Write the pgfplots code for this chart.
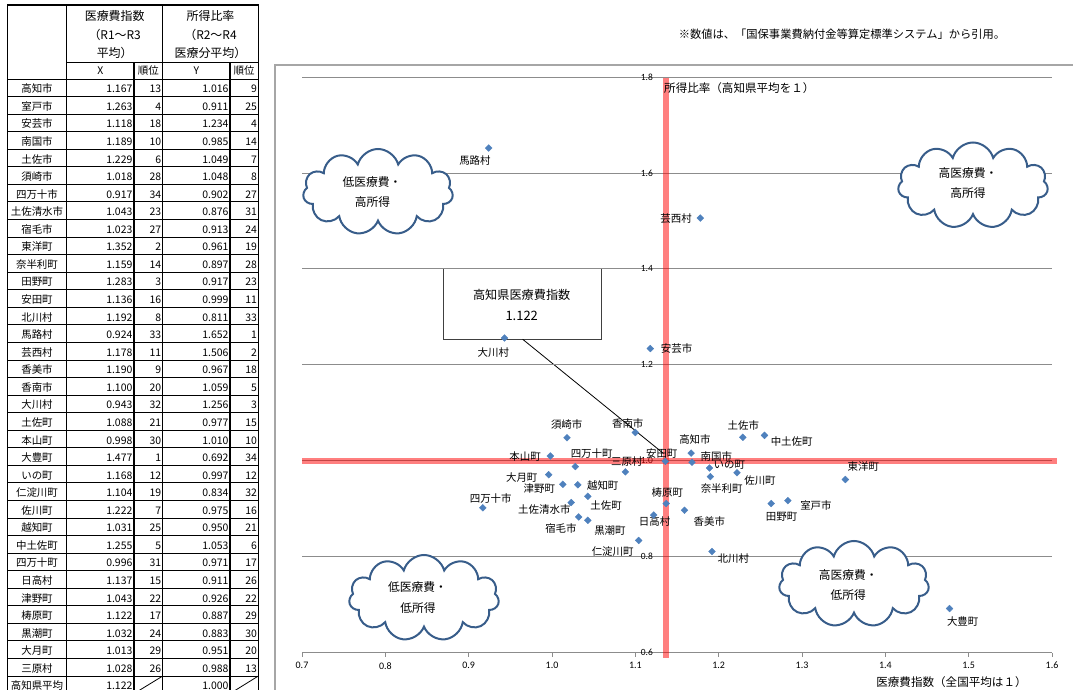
\documentclass[border=0pt]{standalone}
\usepackage{pgfplots}
\pgfplotsset{compat=1.18}
\usepackage{pgfplotstable}
\usepackage{fontspec}
\setmainfont{Noto Sans CJK JP}
\newfontfamily\calib{Carlito}
\usetikzlibrary{shapes.symbols}
\definecolor{markblue}{HTML}{4F81BD}
\definecolor{cloudblue}{HTML}{385D8A}
\definecolor{gridgray}{HTML}{8C8C8C}
\definecolor{framegray}{HTML}{A6A6A6}
\newcommand\fs[1]{\fontsize{#1}{#1}\selectfont}

% x, y, name, label offset (dx right, dy up) in bp
\pgfplotstableread[col sep=comma]{
x,y,name,dx,dy
1.167,1.016,高知市,3.8,13.8
1.263,0.911,室戸市,44.8,-1.8
1.118,1.234,安芸市,26.2,0.3
1.189,0.985,南国市,6.8,11.7
1.229,1.049,土佐市,0.5,12
1.018,1.048,須崎市,-0.3,13.5
0.917,0.902,四万十市,7.9,9.2
1.043,0.876,土佐清水市,-43.5,10.7
1.023,0.913,宿毛市,-10.2,-25.5
1.352,0.961,東洋町,18,12.5
1.159,0.897,奈半利町,37.2,21.6
1.283,0.917,田野町,-6.3,-15.7
1.136,0.999,安田町,-3.6,7.7
1.192,0.811,北川村,21.3,-7.2
0.924,1.652,馬路村,-13.7,-12.1
1.178,1.506,芸西村,-24.3,-0.1
1.190,0.967,香美市,-1,-44.7
1.100,1.059,香南市,-7.6,8.9
0.943,1.256,大川村,-11.2,-15
1.088,0.977,土佐町,-19.3,-33.5
0.998,1.010,本山町,-25.3,-0.3
1.477,0.692,大豊町,13.2,-12.8
1.168,0.997,いの町,37.3,-3
1.104,0.834,仁淀川町,-26,-11.6
1.222,0.975,佐川町,23,-7.5
1.031,0.950,越知町,24.9,-1.2
1.255,1.053,中土佐町,27.2,-6
0.996,0.971,四万十町,43,21.1
1.137,0.911,日高村,-11.5,-18.5
1.043,0.926,津野町,-48.5,7.7
1.122,0.887,梼原町,13.6,22
1.032,0.883,黒潮町,31.3,-13.4
1.013,0.951,大月町,-41.1,6.3
1.028,0.988,三原村,51.4,4.6
}\ptdata

\begin{document}
\begin{tikzpicture}
\useasboundingbox (0,0) rectangle (1073bp,-690bp);
\begin{scope}[x=1bp,y=-1bp]
% ---------- table ----------
\begin{scope}[font=\fs{12}]
\node at (114.7,16) {医療費指数};
\node at (114.7,35) {（R1～R3};
\node at (114.7,53) {平均）};
\node at (210.5,16) {所得比率};
\node at (210.5,35) {（R2～R4};
\node at (210.5,53) {医療分平均）};
\end{scope}
\begin{scope}[font=\fs{10.5}]
\node at (100.3,70.5) {X};
\node at (148.3,70.5) {順位};
\node at (196.3,70.5) {Y};
\node at (244.2,70.5) {順位};
\foreach \n/\xa/\xr/\ya/\yr [count=\i from 0] in {
高知市/1.167/13/1.016/9,
室戸市/1.263/4/0.911/25,
安芸市/1.118/18/1.234/4,
南国市/1.189/10/0.985/14,
土佐市/1.229/6/1.049/7,
須崎市/1.018/28/1.048/8,
四万十市/0.917/34/0.902/27,
土佐清水市/1.043/23/0.876/31,
宿毛市/1.023/27/0.913/24,
東洋町/1.352/2/0.961/19,
奈半利町/1.159/14/0.897/28,
田野町/1.283/3/0.917/23,
安田町/1.136/16/0.999/11,
北川村/1.192/8/0.811/33,
馬路村/0.924/33/1.652/1,
芸西村/1.178/11/1.506/2,
香美市/1.190/9/0.967/18,
香南市/1.100/20/1.059/5,
大川村/0.943/32/1.256/3,
土佐町/1.088/21/0.977/15,
本山町/0.998/30/1.010/10,
大豊町/1.477/1/0.692/34,
いの町/1.168/12/0.997/12,
仁淀川町/1.104/19/0.834/32,
佐川町/1.222/7/0.975/16,
越知町/1.031/25/0.950/21,
中土佐町/1.255/5/1.053/6,
四万十町/0.996/31/0.971/17,
日高村/1.137/15/0.911/26,
津野町/1.043/22/0.926/22,
梼原町/1.122/17/0.887/29,
黒潮町/1.032/24/0.883/30,
大月町/1.013/29/0.951/20,
三原村/1.028/26/0.988/13}{
  \pgfmathsetmacro\yb{79+\i*17.56+13.8}
  \node[anchor=base, inner sep=0pt] at (37,\yb) {\n};
  \node[anchor=base east, inner sep=0pt] at (132.6,\yb) {\xa};
  \node[anchor=base east, inner sep=0pt] at (161.4,\yb) {\xr};
  \node[anchor=base east, inner sep=0pt] at (228.7,\yb) {\ya};
  \node[anchor=base east, inner sep=0pt] at (257.2,\yb) {\yr};
}
\pgfmathsetmacro\yb{79+34*17.56+13.8}
\node[anchor=base, inner sep=0pt] at (37,\yb) {高知県平均};
\node[anchor=base east, inner sep=0pt] at (132.6,\yb) {1.122};
\node[anchor=base east, inner sep=0pt] at (228.7,\yb) {1.000};
\end{scope}
\foreach \k in {0,...,34} \draw[line width=0.9bp] (7.3,{79+\k*17.56}) -- (258.3,{79+\k*17.56});
\draw[line width=0.9bp] (66.7,62) -- (258.3,62);
\draw[line width=1.3bp] (7.3,5) -- (258.3,5) -- (258.3,700);
\draw[line width=1.3bp] (7.3,5) -- (7.3,700);
\draw[line width=1.3bp] (66.7,5) -- (66.7,700);
\draw[line width=1.3bp] (162.7,5) -- (162.7,700);
\draw[line width=1.3bp] (134,62) -- (134,700);
\draw[line width=1.3bp] (230,62) -- (230,700);
\draw[line width=0.8bp] (134,{79+35*17.56}) -- (162.7,{79+34*17.56});
\draw[line width=0.8bp] (230,{79+35*17.56}) -- (258.3,{79+34*17.56});
% ---------- chart frame and callout ----------
\draw[framegray, line width=1.5bp] (275,700) -- (275,65) -- (1090,65);
\node[font=\fs{11.3}] at (842,34) {※数値は、「国保事業費納付金等算定標準システム」から引用。};
\draw[black!75, line width=1.2bp, fill=white] (443.3,268.3) rectangle (601.7,339.3);
\node[font=\fs{12.2}] at (521.7,295) {高知県医療費指数};
\node[font=\fs{13}] at (521.7,315.5) {1.122};
\draw[line width=0.8bp] (522.7,339.3) -- (663.5,453.5);
\end{scope}
% ---------- scatter ----------
\begin{axis}[
  at={(302bp,-652.7bp)}, anchor=south west,
  scale only axis, width=750bp, height=575.7bp,
  xmin=0.7, xmax=1.6, ymin=0.6, ymax=1.8,
  xtick={0.7,0.8,0.9,1.0,1.1,1.2,1.3,1.4,1.5,1.6},
  xticklabels={0.7,0.8,0.9,1.0,1.1,1.2,1.3,1.4,1.5,1.6},
  ytick={0.6,0.8,1.0,1.2,1.4,1.6,1.8},
  yticklabels={0.6,0.8,1.0,1.2,1.4,1.6,1.8},
  axis line style={draw=none},
  ymajorgrids, grid style={gridgray, line width=0.9bp},
  tick align=outside, major tick length=4bp,
  xtick pos=left, ytick pos=left,
  x tick style={gridgray, line width=0.9bp},
  y tick style={draw=none},
  xticklabel style={font=\calib\fs{10}, yshift=-2bp},
  yticklabel style={font=\calib\fs{9.5}, anchor=east, inner sep=0pt, xshift=355bp},
  clip=false,
]
\addplot[only marks, mark=square*, mark size=2.4bp,
  mark options={rotate=45, fill=markblue, draw=markblue},
  point meta=explicit symbolic,
  visualization depends on={\thisrow{dx}\as\labdx},
  visualization depends on={\thisrow{dy}\as\labdy},
  nodes near coords,
  every node near coord/.append style={anchor=center, inner sep=0pt,
    xshift=\labdx bp, yshift=\labdy bp, font=\fs{10.5}, text=black},
] table[x=x, y=y, meta=name]{\ptdata};
\draw[line width=6.5bp, red, opacity=0.5] (axis cs:0.7,1.0) -- (axis cs:1.606,1.0);
\draw[line width=6.5bp, red, opacity=0.5] (axis cs:1.137,1.797) -- (axis cs:1.137,0.59);
\end{axis}
% ---------- clouds and titles ----------
\begin{scope}[x=1bp,y=-1bp]
\tikzset{cl/.style={cloud, cloud puffs=11, cloud ignores aspect, minimum width=150bp,
  minimum height=86bp, draw=cloudblue, line width=2bp, fill=white, inner sep=0pt}}
\node[cl] at (378,192) {};
\node[cl] at (973,185.5) {};
\node[cl] at (424,598) {};
\node[cl] at (854,584) {};
\begin{scope}[font=\fs{11.8}]
\node at (372,181.7) {低医療費・};
\node at (372.5,201.7) {高所得};
\node at (968,173.3) {高医療費・};
\node at (968,193.3) {高所得};
\node at (417.5,586.7) {低医療費・};
\node at (418,608.3) {低所得};
\node at (848.3,575) {高医療費・};
\node at (848.3,595) {低所得};
\end{scope}
\node[font=\fs{11.6}, anchor=west, inner sep=0pt] at (664,88) {所得比率（高知県平均を１）};
\node[font=\fs{11.6}] at (951.5,682) {医療費指数（全国平均は１）};
\end{scope}
\end{tikzpicture}
\end{document}
